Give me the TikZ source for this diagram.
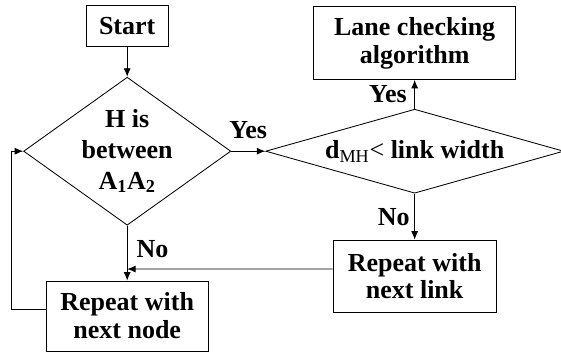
\documentclass[tikz,border=0pt]{standalone}
\usepackage{fontspec}
\setmainfont{Liberation Serif}
\usetikzlibrary{positioning,calc,shapes.geometric,arrows.meta}

\begin{document}
\begin{tikzpicture}[semithick,->,>={Latex[length=6pt,width=5pt]},
    font=\fontsize{18.5}{19.8}\selectfont\bfseries,
    every node/.style={align=center},
    box/.style={draw,rectangle,inner sep=2pt},
    test/.style={draw,diamond,inner sep=0pt}]
  \useasboundingbox (0,0) rectangle (14.025,-8.95);

  \node[test,minimum width=5.03cm,minimum height=3.6cm,aspect=1.4] (between) at (3.18,-3.78)
        {H is\\[2pt] between\\[2pt] A\textsubscript{1}A\textsubscript{2}};
  \node[box,minimum width=2.05cm,minimum height=1.03cm] (start) [above=0.75cm of between] {Start};
  \node[box,minimum width=4.05cm,minimum height=1.75cm] (repnode) at (3.18,-7.9) {Repeat with\\next node};
  \node[test,minimum width=7.45cm,minimum height=2.1cm,aspect=3.5] (dist) [right=0.85cm of between]
        {d\textsubscript{\mdseries MH}{\mdseries <} link width};
  \node[box,minimum width=5.05cm,minimum height=1.83cm] (lane) [above=0.72cm of dist] {Lane checking\\algorithm};
  \node[box,minimum width=4.08cm,minimum height=1.8cm]  (replink) [below=1.15cm of dist] {Repeat with\\next link};

  \path (start)   edge                               (between)
        (between) edge node [above=5pt]          {Yes} (dist)
                  edge node [right=3pt,pos=0.42] {No}  (repnode)
        (dist)    edge node [left=2pt]           {Yes} (lane)
                  edge node [left]               {No}  (replink);

  % back to the No branch, and the loop over the nodes
  \coordinate (join) at ($(between.south |- replink.west)+(0,0.175)$);
  \draw ([yshift=5pt]replink.west) -- (join);
  \draw ([yshift=5pt]repnode.west) -- ++(-0.85,0) |- (between.west);
\end{tikzpicture}
\end{document}
